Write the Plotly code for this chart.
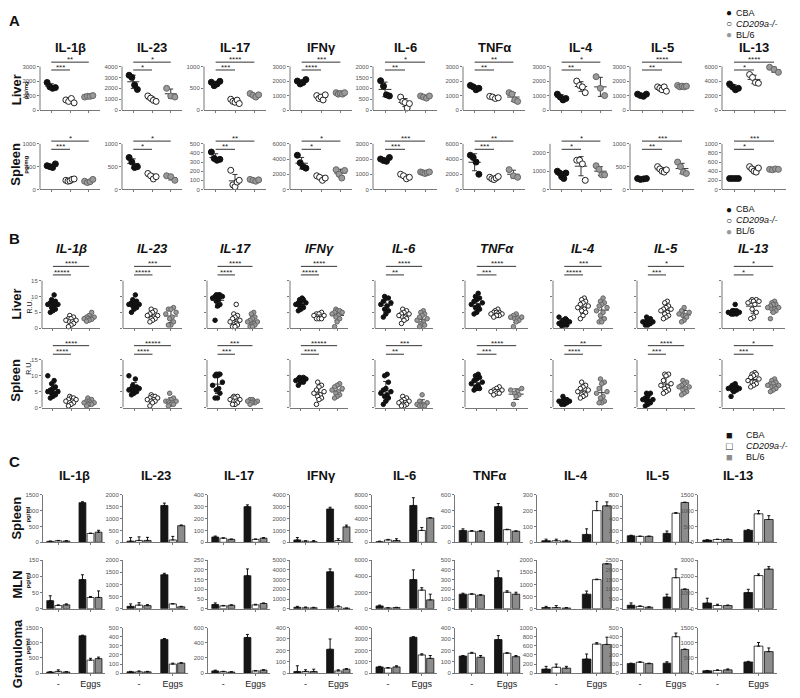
import numpy as np
import plotly.graph_objects as go

# ---------------- data ----------------
cytokines = ["IL-1β", "IL-23", "IL-17", "IFNγ", "IL-6", "TNFα", "IL-4", "IL-5", "IL-13"]
strains = ["CBA", "CD209a-/-", "BL/6"]

# Panel A (pg/mg), one list per cytokine
a_liver_cba = [[1900, 1600, 1500, 1550], [3200, 3000, 2300, 1900], [640, 560, 600, 660],
               [2000, 1800, 1900, 2100], [1350, 1100, 700, 650], [1700, 1600, 1400, 1500],
               [1100, 900, 700, 800], [1100, 1000, 950, 1100], [3600, 3200, 2800, 3000]]
a_liver_cd209 = [[700, 600, 800, 500], [1300, 1100, 900, 800], [250, 200, 180, 230, 150],
                 [1000, 800, 900, 700, 1050], [600, 400, 350, 100, 300], [950, 900, 800, 850],
                 [2000, 1700, 1600, 1200], [1600, 1500, 1400, 1600, 1300], [4900, 4500, 3800, 3700]]
a_liver_bl6 = [[900, 950, 950, 1000], [2000, 1300, 1200], [380, 340, 300, 350],
               [1200, 1100, 1150, 1100, 1200], [650, 600, 550, 650], [1200, 1100, 700, 600],
               [2300, 1500, 1000], [1700, 1600, 1650, 1600, 1650], [5900, 5600, 5200]]
a_spleen_cba = [[520, 500, 480, 560], [700, 600, 480, 500], [410, 340, 320, 330],
                [4500, 3500, 3000, 2800], [2000, 1900, 1850, 2100], [4500, 4200, 3600, 2000],
                [1000, 900, 700, 600, 900], [240, 220, 230, 240], [240, 240, 240, 240]]
a_spleen_cd209 = [[200, 180, 190, 220, 230], [350, 300, 230, 280], [210, 50, 30, 80, 100],
                  [1800, 1600, 1200, 1500], [1000, 900, 700, 800], [1600, 1400, 1300, 1500, 1700],
                  [1600, 1600, 1400, 500], [500, 450, 400, 380, 430], [500, 450, 400, 380, 470]]
a_spleen_bl6 = [[180, 150, 170, 220], [300, 280, 200], [110, 100, 90, 105],
                [2600, 2000, 1500, 2500], [1150, 1100, 1050, 1100, 1150], [2600, 1800, 1600],
                [1300, 1100, 800, 800], [600, 500, 380, 350], [440, 430, 450, 440]]
a_liver_top = [3000, 4000, 1000, 3000, 2000, 3000, 3000, 3000, 6000]
a_liver_step = [1000, 1000, 500, 1000, 500, 1000, 1000, 1000, 2000]
a_spleen_top = [1000, 1000, 500, 6000, 3000, 6000, 2500, 1000, 1000]
a_spleen_step = [500, 500, 100, 2000, 1000, 2000, 1000, 500, 200]
a_liver_sig = [("***", "**"), ("*", "*"), ("***", "****"), ("****", "***"), ("**", "*"),
               ("**", "**"), ("**", "*"), ("**", "****"), ("*", "****")]
a_spleen_sig = [("***", "*"), ("*", "*"), ("**", "**"), ("*", "*"), ("***", "***"),
                ("***", "**"), ("*", "*"), ("**", "***"), ("*", "***")]

# Panel B (R.U.)
b_liver_cba = [[10.5, 9, 8.5, 8, 7.5, 7.5, 7, 6.5, 6, 5.5, 5, 8],
               [10.5, 9, 8.5, 8, 8, 7.5, 7.5, 7, 7, 6.5, 6, 5],
               [10.5, 10.5, 10.5, 10, 10, 10, 9.5, 9, 8.5, 7.5, 7, 2.5],
               [9.5, 9, 9, 8.5, 8, 8, 7.5, 7, 7, 6.5, 6, 5.5],
               [10, 9.5, 9.5, 8.5, 8, 7.5, 7, 6, 5.5, 4.5, 3.5],
               [11, 10, 9.5, 9, 8.5, 8, 7.5, 7, 6.5, 6, 5, 4.5],
               [3.5, 3, 2.5, 2.5, 2, 2, 2, 1.5, 1.5, 1.5, 1, 1, 0.8],
               [3.5, 3, 2.5, 2, 2, 2, 1.5, 1.5, 1.5, 1, 1],
               [7.5, 5.5, 5.5, 5, 5, 5, 5, 4.5, 4.5, 4.5, 4.5, 5.5]]
b_liver_cd209 = [[4, 3.5, 3, 3, 2.5, 2.5, 2, 2, 1.5, 1, 0.5],
                 [6, 5.5, 5, 4.5, 4, 4, 3.5, 3, 3, 2.5, 2],
                 [7.5, 4.5, 4, 3.5, 3, 2.5, 2, 1.5, 1, 1, 0.5, 0.5],
                 [5, 4.5, 4.5, 4, 4, 3.5, 3.5, 3, 3, 3],
                 [6, 5.5, 5, 4.5, 4.5, 4, 3.5, 3.5, 3, 2.5, 1.5],
                 [6, 5.5, 5, 5, 5, 4.5, 4.5, 4.5, 4, 4, 4, 3.5],
                 [9.5, 9, 8.5, 8, 7.5, 7, 6.5, 6, 5.5, 5, 4, 3],
                 [8.5, 8, 7, 6.5, 6, 6, 5.5, 5, 4.5, 4, 3.5, 3],
                 [9, 9, 8.5, 8.5, 8.5, 8, 7.5, 6, 5, 3.5, 3]]
b_liver_bl6 = [[5, 4, 3.5, 3.5, 3, 3, 3, 2.8, 2.5, 2.2],
               [6.5, 6, 6, 5, 4.5, 3.5, 3, 2, 1, 1],
               [5, 4.5, 3.5, 3, 2.5, 2, 2, 1.5, 1, 1, 0.5, 0.5],
               [6, 5.5, 5.5, 5, 5, 4.5, 4, 3.5, 3, 2, 0.5],
               [5.5, 5, 4.5, 4, 3.5, 3, 2.5, 2, 1.5, 1, 1, 0.5],
               [4.5, 4, 3.5, 3.5, 3, 3, 2.5, 2, 0.5],
               [9.5, 8.5, 8, 7.5, 7, 6.5, 5.5, 5, 4, 3, 2, 2],
               [6.5, 5.5, 5, 4.5, 4, 4, 3.5, 2.5, 2],
               [8.5, 8, 7.5, 7.5, 7, 6.5, 6.5, 6, 6, 5.5, 5, 3]]
b_spleen_cba = [[10, 8.5, 7.5, 6.5, 6, 5.5, 5, 5, 4.5, 4.5, 4, 3.5, 3],
                [10, 9, 7, 6.5, 6, 6, 6, 5.5, 5.5, 5, 5, 4.5, 4],
                [10.5, 10.5, 10.5, 10, 10, 8, 7, 6, 5.5, 4.5, 3, 3],
                [9.5, 9.5, 9, 9, 9, 8.5, 8.5, 8.5, 8, 8, 7],
                [10.5, 10, 8, 6, 5.5, 5, 4.5, 4, 3.5, 3, 2, 1],
                [10.5, 10, 9.5, 9, 8.5, 8, 7.5, 7, 6.5, 6, 6, 5.5],
                [3.5, 2.5, 2.5, 2, 2, 2, 1.5, 1.5, 1.5, 1, 1],
                [4.5, 4.5, 3.5, 3, 2.5, 2.5, 2, 2, 1.5, 1, 0.5],
                [7.5, 7, 6.5, 6.5, 6.5, 6, 6, 6, 5.5, 5.5, 5, 3.5]]
b_spleen_cd209 = [[3.5, 3, 3, 2.5, 2.5, 2, 2, 1.5, 1.5, 1, 0.5],
                  [4, 3.5, 3.5, 3, 3, 2.5, 2.5, 2, 2, 1.5, 0.5],
                  [3.5, 3.5, 3, 3, 2.5, 2.5, 2, 2, 1.5, 1, 1],
                  [8, 7, 6.5, 5.5, 5, 4.5, 4, 3.5, 3, 2.5, 1],
                  [3.5, 3, 2.5, 2, 2, 1.5, 1.5, 1, 1, 0.5, 0.5],
                  [6.5, 6, 5.5, 5.5, 5, 5, 5, 4.5, 4.5, 4],
                  [8, 7, 6.5, 6, 5.5, 5, 4.5, 4, 4, 3.5, 3],
                  [10.5, 10.5, 10, 8.5, 7.5, 7, 6.5, 6, 5.5, 5, 4.5],
                  [11, 10.5, 10.5, 10, 9.5, 9, 8.5, 8, 8, 7.5, 7, 6.5]]
b_spleen_bl6 = [[3, 2.5, 2, 2, 1.5, 1.5, 1.5, 1, 1, 1, 0.5],
                [4.5, 3, 2.5, 2, 2, 2, 1.5, 1.5, 1, 1, 0.5],
                [2.5, 2.5, 2, 2, 2, 1.5, 1.5, 1.5, 1],
                [7.5, 7, 6.5, 6, 5.5, 5, 4.5, 4, 3.5, 3],
                [4, 2, 1.5, 1, 1, 1, 0.5, 0.5, 0.5],
                [6, 5.5, 5, 4.5, 4, 3.5, 1],
                [9, 8, 7.5, 6, 5, 4.5, 3.5, 3, 2, 1.5, 1.5],
                [8.5, 8, 7.5, 7, 6.5, 6.5, 6, 5.5, 5, 4.5, 4],
                [9, 8.5, 8, 7.5, 7.5, 7, 7, 6.5, 6.5, 6, 5.5, 5]]
b_top = 15
b_step = 5
b_liver_sig = [("*****", "****"), ("*****", "***"), ("****", "****"), ("*****", "****"), ("**", "****"),
               ("***", "****"), ("*****", "***"), ("***", "*"), ("*", "*")]
b_spleen_sig = [("****", "****"), ("****", "*****"), ("***", "***"), ("****", "*****"), ("**", "***"),
                ("***", "****"), ("****", "**"), ("***", "****"), ("***", "*")]

# Panel C (pg/ml): [unstimulated, eggs] per cytokine
c_spleen_cba = [[30, 1250], [50, 1550], [45, 300], [200, 2800], [100, 6200], [150, 450], [10, 50], [110, 150], [70, 380]]
c_spleen_cba_err = [[10, 30], [150, 100], [8, 15], [200, 150], [100, 1300], [20, 40], [10, 35], [10, 40], [10, 20]]
c_spleen_cd209 = [[50, 280], [80, 100], [35, 25], [100, 150], [400, 2000], [140, 160], [10, 200], [100, 490], [90, 900]]
c_spleen_cd209_err = [[10, 10], [150, 150], [3, 3], [30, 150], [100, 500], [8, 5], [10, 58], [5, 10], [10, 100]]
c_spleen_bl6 = [[40, 320], [80, 700], [25, 35], [50, 1300], [300, 4100], [140, 140], [8, 230], [100, 670], [90, 720]]
c_spleen_bl6_err = [[10, 60], [130, 30], [3, 5], [100, 150], [300, 50], [8, 5], [5, 25], [5, 5], [15, 120]]

c_mln_cba = [[25, 90], [100, 1400], [22, 170], [150, 3800], [350, 3600], [150, 320], [50, 600], [180, 600], [350, 1000]]
c_mln_cba_err = [[15, 15], [100, 60], [8, 35], [100, 300], [100, 1200], [10, 70], [50, 130], [120, 150], [300, 200]]
c_mln_cd209 = [[10, 35], [150, 200], [15, 20], [100, 200], [100, 2300], [150, 170], [50, 1200], [120, 1600], [200, 2050]]
c_mln_cd209_err = [[2, 3], [100, 10], [2, 3], [80, 100], [30, 300], [5, 15], [80, 20], [30, 450], [80, 100]]
c_mln_bl6 = [[12, 35], [130, 80], [18, 27], [100, 50], [150, 1100], [140, 150], [30, 1850], [80, 1000], [200, 2450]]
c_mln_bl6_err = [[3, 20], [40, 20], [2, 3], [50, 20], [30, 700], [5, 20], [20, 10], [20, 20], [30, 150]]

c_gran_cba = [[40, 1230], [15, 370], [30, 470], [15, 210], [550, 3150], [150, 295], [90, 310], [105, 110], [80, 370]]
c_gran_cba_err = [[10, 20], [5, 10], [10, 40], [50, 90], [50, 50], [5, 35], [60, 110], [5, 15], [10, 20]]
c_gran_cd209 = [[60, 430], [15, 100], [20, 30], [15, 20], [450, 1600], [175, 175], [130, 640], [120, 400], [90, 890]]
c_gran_cd209_err = [[50, 60], [10, 10], [5, 5], [15, 10], [50, 100], [8, 5], [70, 30], [5, 40], [20, 120]]
c_gran_bl6 = [[40, 480], [15, 110], [15, 40], [15, 35], [550, 1300], [140, 145], [110, 630], [105, 260], [110, 710]]
c_gran_bl6_err = [[10, 50], [5, 5], [5, 5], [20, 5], [100, 250], [15, 10], [40, 160], [5, 5], [30, 120]]

c_spleen_top = [1500, 2000, 400, 4000, 8000, 600, 300, 800, 1500]
c_spleen_step = [500, 500, 100, 1000, 2000, 200, 100, 200, 500]
c_mln_top = [150, 2000, 250, 5000, 6000, 500, 2000, 2500, 3000]
c_mln_step = [50, 500, 50, 1000, 2000, 100, 500, 500, 1000]
c_gran_top = [1500, 500, 600, 400, 4000, 400, 1000, 500, 1500]
c_gran_step = [500, 100, 200, 100, 1000, 100, 200, 100, 500]
c_groups = ["-", "Eggs"]

# ---------------- layout helpers ----------------
# page is 800x698 but the html body keeps an 8px margin, so the figure is
# drawn 8px smaller and all positions below are given in page pixels
PAGE_OFF = 8
W, H = 800 - PAGE_OFF, 698 - PAGE_OFF
FONT = "Liberation Sans, Arial, sans-serif"
AXC = "#777"
LINE = "#333"

A_COLS = [(40, 100), (122, 182), (204, 266), (290, 352), (373, 437), (463, 525), (550, 612), (630, 694), (722, 786)]
B_COLS = [(42, 100), (123, 182), (207, 263), (290, 348), (375, 433), (465, 528), (553, 613), (637, 695), (722, 785)]
C_COLS = [(43, 105), (123, 188), (208, 270), (290, 353), (372, 437), (455, 523), (537, 615), (623, 692), (698, 777)]

fig = go.Figure()
lay = {}
anns = []
shapes = []
count = [0]


def px(x):
    return (x - PAGE_OFF) / W


def py(y):
    return 1 - (y - PAGE_OFF) / H


def text(x, y, s, size, **kw):
    d = dict(x=px(x), y=py(y), xref="paper", yref="paper", text=s, showarrow=False,
             xanchor="center", yanchor="middle", borderpad=0,
             font=dict(size=size, color=kw.pop("color", "#111"), family=FONT))
    d.update(kw)
    anns.append(d)


def new_axes(xpx, ytop, ybot, xr, yr, ytick, ylabels, xtick, xtext=None, yline_top=None):
    count[0] += 1
    k = count[0]
    xn, yn = ("x", "y") if k == 1 else (f"x{k}", f"y{k}")
    xkey, ykey = ("xaxis", "yaxis") if k == 1 else (f"xaxis{k}", f"yaxis{k}")
    lay[xkey] = dict(domain=[px(xpx[0]), px(xpx[1])], range=xr, anchor=yn, showgrid=False,
                     zeroline=False, showline=True, linecolor=AXC, linewidth=1, ticks="outside",
                     ticklen=2, tickcolor=AXC, tickvals=xtick, ticktext=xtext,
                     showticklabels=xtext is not None, fixedrange=True,
                     tickfont=dict(size=9, color="#222", family=FONT))
    lay[ykey] = dict(domain=[py(ybot), py(ytop)], range=yr, anchor=xn, showgrid=False,
                     zeroline=False, showline=yline_top is None, linecolor=AXC, linewidth=1,
                     ticks="outside", ticklen=2, tickcolor=AXC, tickvals=ytick, tickformat="d",
                     showticklabels=ylabels, fixedrange=True,
                     tickfont=dict(size=6, color="#555", family=FONT))
    if yline_top is not None:
        shapes.append(dict(type="line", xref=f"{xn} domain", yref=yn, x0=0, x1=0, y0=0,
                           y1=yline_top, line=dict(color=AXC, width=1)))
    return xn, yn


MARK = [dict(color="#111", line=dict(color="#111", width=1)),
        dict(color="white", line=dict(color="#222", width=1)),
        dict(color="#9a9a9a", line=dict(color="#666", width=1))]


def offsets(vals, spread, beeswarm):
    n = len(vals)
    if not beeswarm:
        return np.linspace(-spread, spread, n) if n > 1 else np.zeros(1)
    pattern = np.array([-0.5, 0.0, 0.5, -0.25, 0.25, -1.0, 1.0]) * spread
    order = np.argsort(vals)
    off = np.zeros(n)
    for i, j in enumerate(order):
        off[j] = pattern[i % len(pattern)]
    return off


def dot_panel(xpx, tick_top_px, zero_px, factor, ymax, step, groups, sig, ylabels,
              size, hw, cw, spread, beeswarm, lev):
    scale = (zero_px - tick_top_px) / ymax
    ytop = zero_px - ymax * factor * scale
    ticks = list(np.arange(0, ymax + 1e-9, step))
    xn, yn = new_axes(xpx, ytop, zero_px, [-0.6, 2.6], [0, ymax * factor], ticks, ylabels,
                      [0, 1, 2], yline_top=ymax)
    # mean +/- SD
    lx, ly = [], []
    for g, vals in enumerate(groups):
        v = np.array(vals, dtype=float)
        m, s = v.mean(), v.std(ddof=1)
        lx += [g - hw, g + hw, None, g, g, None, g - cw, g + cw, None, g - cw, g + cw, None]
        ly += [m, m, None, m - s, m + s, None, m - s, m - s, None, m + s, m + s, None]
    fig.add_trace(go.Scatter(x=lx, y=ly, mode="lines", line=dict(color=LINE, width=1),
                             xaxis=xn, yaxis=yn, showlegend=False, hoverinfo="skip"))
    for g, vals in enumerate(groups):
        off = offsets(vals, spread, beeswarm)
        fig.add_trace(go.Scatter(x=g + off, y=vals, mode="markers",
                                 marker=dict(size=size, **MARK[g]), xaxis=xn, yaxis=yn,
                                 showlegend=False, name=strains[g], cliponaxis=False))
    lo, hi = ymax * lev[0], ymax * lev[1]
    fig.add_trace(go.Scatter(x=[0, 1, None, 0, 2], y=[lo, lo, None, hi, hi], mode="lines",
                             line=dict(color=LINE, width=1), xaxis=xn, yaxis=yn,
                             showlegend=False, hoverinfo="skip"))
    for (xm, yv, s) in [(0.5, lo, sig[0]), (1.0, hi, sig[1])]:
        anns.append(dict(x=xm, y=yv, xref=xn, yref=yn, text=s, showarrow=False,
                         xanchor="center", yanchor="bottom", yshift=-4,
                         font=dict(size=8, color="#222", family=FONT)))


def bar_panel(xpx, ytop, ybot, ymax, step, series, errs, bottom):
    ticks = list(np.arange(0, ymax + 1e-9, step))
    xn, yn = new_axes(xpx, ytop, ybot, [-0.9, 6.8], [0, ymax], ticks, True,
                      [1, 5], c_groups if bottom else None)
    cols = ["#151515", "white", "#8c8c8c"]
    for g in range(3):
        fig.add_trace(go.Bar(x=[g, g + 4], y=series[g], width=0.85,
                             marker=dict(color=cols[g], line=dict(color="#111", width=0.8)),
                             error_y=dict(type="data", array=errs[g], arrayminus=[0, 0],
                                          symmetric=False, color="#111", thickness=1, width=1.5),
                             xaxis=xn, yaxis=yn, showlegend=False, name=strains[g]))


# ---------------- panel A ----------------
text(14, 18, "<b>A</b>", 15)
for i, c in enumerate(cytokines):
    x0, x1 = A_COLS[i]
    text((x0 + x1) / 2, 45, f"<b>{c}</b>", 13)
    dot_panel(A_COLS[i], 64, 108, 1.2, a_liver_top[i], a_liver_step[i],
              [a_liver_cba[i], a_liver_cd209[i], a_liver_bl6[i]], a_liver_sig[i],
              True, 6, 0.32, 0.13, 0.22, False, (0.92, 1.1))
    dot_panel(A_COLS[i], 142, 188, 1.2, a_spleen_top[i], a_spleen_step[i],
              [a_spleen_cba[i], a_spleen_cd209[i], a_spleen_bl6[i]], a_spleen_sig[i],
              True, 6, 0.32, 0.13, 0.22, False, (0.88, 1.06))
for lab, y in [("Liver", 88), ("Spleen", 163)]:
    text(16, y, f"<b>{lab}</b>", 13, textangle=-90)
    text(26, y, "<b>pg/mg</b>", 6, textangle=-90)

# ---------------- panel B ----------------
text(14, 238, "<b>B</b>", 15)
for i, c in enumerate(cytokines):
    x0, x1 = B_COLS[i]
    text((x0 + x1) / 2, 248, f"<b><i>{c}</i></b>", 13)
    dot_panel(B_COLS[i], 280, 328, 1.4, b_top, b_step,
              [b_liver_cba[i], b_liver_cd209[i], b_liver_bl6[i]], b_liver_sig[i],
              i == 0, 4.5, 0.38, 0.15, 0.28, True, (1.12, 1.3))
    dot_panel(B_COLS[i], 360, 408, 1.4, b_top, b_step,
              [b_spleen_cba[i], b_spleen_cd209[i], b_spleen_bl6[i]], b_spleen_sig[i],
              i == 0, 4.5, 0.38, 0.15, 0.28, True, (1.12, 1.3))
for lab, y, ry in [("Liver", 304, 306), ("Spleen", 381, 368)]:
    text(16, y, f"<b>{lab}</b>", 13, textangle=-90)
    text(29, ry, "R.U.", 7, textangle=-90)

# ---------------- panel C ----------------
text(14, 462, "<b>C</b>", 15)
c_rows = [
    ("Spleen", 496, 544, c_spleen_top, c_spleen_step,
     [c_spleen_cba, c_spleen_cd209, c_spleen_bl6], [c_spleen_cba_err, c_spleen_cd209_err, c_spleen_bl6_err]),
    ("MLN", 562, 611, c_mln_top, c_mln_step,
     [c_mln_cba, c_mln_cd209, c_mln_bl6], [c_mln_cba_err, c_mln_cd209_err, c_mln_bl6_err]),
    ("Granuloma", 630, 676, c_gran_top, c_gran_step,
     [c_gran_cba, c_gran_cd209, c_gran_bl6], [c_gran_cba_err, c_gran_cd209_err, c_gran_bl6_err]),
]
for i, c in enumerate(cytokines):
    x0, x1 = C_COLS[i]
    text((x0 + x1) / 2, 477, f"<b>{c}</b>", 13)
for r, (lab, yt, yb, tops, steps, ser, er) in enumerate(c_rows):
    for i in range(len(cytokines)):
        bar_panel(C_COLS[i], yt, yb, tops[i], steps[i],
                  [s[i] for s in ser], [e[i] for e in er], r == len(c_rows) - 1)
    yc = (yt + yb) / 2 + (4 if lab == "Granuloma" else 0)
    text(17, yc, f"<b>{lab}</b>", 13, textangle=-90)
    text(28, (yt + yb) / 2 - 4, "<b>pg/ml</b>", 6, textangle=-90)

# ---------------- legends ----------------
leg_labels = ["CBA", "<i>CD209a-/-</i>", "BL/6"]
dot_syms = [("●", "#111"), ("○", "#222"), ("●", "#9a9a9a")]
sq_syms = [("■", "#151515"), ("□", "#222"), ("■", "#8c8c8c")]
for base in (10, 208):
    for j in range(3):
        text(729, base + 11 * j, dot_syms[j][0], 10, color=dot_syms[j][1])
        text(735, base + 11 * j, leg_labels[j], 9, xanchor="left")
for j in range(3):
    text(729, 436 + 11 * j, sq_syms[j][0], 11, color=sq_syms[j][1])
    text(745, 436 + 11 * j, leg_labels[j], 9, xanchor="left")

fig.update_layout(
    width=W, height=H, margin=dict(l=0, r=0, t=0, b=0),
    paper_bgcolor="white", plot_bgcolor="white", barmode="overlay",
    font=dict(family=FONT, color="#111"), showlegend=False,
    annotations=anns, shapes=shapes, **lay,
)
fig.write_html("out.html")
